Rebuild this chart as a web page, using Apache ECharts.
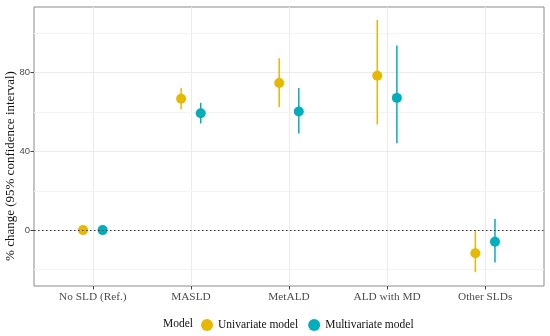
<!DOCTYPE html>
<html>
<head>
<meta charset="utf-8">
<script src="https://cdn.jsdelivr.net/npm/echarts@6/dist/echarts.min.js"></script>
<style>html,body{margin:0;padding:0;background:#fff;}#c{width:550px;height:336px;}</style>
</head>
<body>
<div id="c"></div>
<script>
var categories = ['No SLD (Ref.)', 'MASLD', 'MetALD', 'ALD with MD', 'Other SLDs'];
var uniEst  = [0, 66.8, 74.8, 78.5, -11.8];
var uniLow  = [0, 61.3, 62.6, 53.7, -21.4];
var uniHigh = [0, 72.2, 87.4, 106.8, 0];
var multiEst  = [0, 59.4, 60.3, 67.2, -5.9];
var multiLow  = [0, 54.2, 49.1, 44.1, -16.4];
var multiHigh = [0, 64.7, 72.2, 93.8, 5.6];
var yTicks = [0, 40, 80];
var yMinor = [-20, 20, 60, 100];

var UNI = '#E7B800', MULTI = '#00AFBB';
var dodge = 0.1;
var serif = '"Liberation Serif", "DejaVu Serif", serif';

function pts(est, off) { return est.map(function (v, i) { return [i + 1 + off, v]; }); }
function bars(lo, hi, off) { return lo.map(function (v, i) { return [i + 1 + off, v, hi[i]]; }); }
function renderBar(color) {
  return function (params, api) {
    var p1 = api.coord([api.value(0), api.value(1)]);
    var p2 = api.coord([api.value(0), api.value(2)]);
    return { type: 'line', shape: { x1: p1[0], y1: p1[1], x2: p2[0], y2: p2[1] },
      style: { stroke: color, lineWidth: 1.5 } };
  };
}

var gridLines = [];
categories.forEach(function (c, i) { gridLines.push({ xAxis: i + 1, lineStyle: { color: '#ebebeb', width: 1, type: 'solid' } }); });
yTicks.forEach(function (v) { gridLines.push({ yAxis: v, lineStyle: { color: '#ebebeb', width: 1, type: 'solid' } }); });
yMinor.forEach(function (v) { gridLines.push({ yAxis: v, lineStyle: { color: '#f3f3f3', width: 1, type: 'solid' } }); });

var chart = echarts.init(document.getElementById('c'), null, { renderer: 'canvas' });
chart.setOption({
  animation: false,
  grid: { left: 34, right: 6, top: 7, bottom: 50, containLabel: false, outerBoundsMode: 'none',
    show: true, borderColor: '#8a8a8a', borderWidth: 1, backgroundColor: 'transparent' },
  xAxis: {
    type: 'value', min: 0.4, max: 5.6, position: 'bottom',
    axisLine: { show: false, onZero: false },
    splitLine: { show: false },
    axisTick: { show: true, customValues: [1, 2, 3, 4, 5], length: 3.5, lineStyle: { color: '#444' } },
    axisLabel: { customValues: [1, 2, 3, 4, 5], color: '#4d4d4d', fontFamily: serif, fontSize: 11.3, margin: 6,
      formatter: function (v) { return categories[Math.round(v) - 1] || ''; } }
  },
  yAxis: {
    type: 'value', min: -28.4, max: 113.4, position: 'left',
    axisLine: { show: false, onZero: false },
    splitLine: { show: false },
    axisTick: { show: true, customValues: yTicks, length: 3.5, lineStyle: { color: '#444' } },
    axisLabel: { customValues: yTicks, color: '#4d4d4d', fontFamily: '"Liberation Sans", Arial, sans-serif', fontSize: 9.5, margin: 4 }
  },
  legend: {
    data: [{ name: 'Univariate model', icon: 'circle' }, { name: 'Multivariate model', icon: 'circle' }],
    left: 201, top: 319, itemWidth: 12, itemHeight: 12, itemGap: 10, padding: 0,
    textStyle: { fontFamily: serif, fontSize: 11.5, color: '#111' },
    selectedMode: false
  },
  graphic: [
    { type: 'text', left: 163, top: 318, style: { text: 'Model', font: '11.5px ' + serif, fill: '#111' } },
    { type: 'text', x: 10.5, y: 166, rotation: Math.PI / 2,
      style: { text: '% change (95% confidence interval)', font: '13px ' + serif, fill: '#111', align: 'center', verticalAlign: 'middle' } }
  ],
  series: [
    { type: 'scatter', name: 'grid', data: [], silent: true, z: 0,
      markLine: { silent: true, z: 0, symbol: 'none', label: { show: false }, animation: false, data: gridLines } },
    { type: 'custom', name: 'Univariate model', data: bars(uniLow, uniHigh, -dodge), renderItem: renderBar(UNI), itemStyle: { color: UNI }, z: 2 },
    { type: 'custom', name: 'Multivariate model', data: bars(multiLow, multiHigh, dodge), renderItem: renderBar(MULTI), itemStyle: { color: MULTI }, z: 2 },
    { type: 'scatter', name: 'Univariate model', data: pts(uniEst, -dodge), symbolSize: 10, itemStyle: { color: UNI, opacity: 1 }, z: 3 },
    { type: 'scatter', name: 'Multivariate model', data: pts(multiEst, dodge), symbolSize: 10, itemStyle: { color: MULTI, opacity: 1 }, z: 3,
      markLine: { silent: true, symbol: 'none', label: { show: false }, animation: false, z: 10,
        data: [{ yAxis: 0, lineStyle: { color: '#333', width: 1, type: [1.5, 2.5] } }] } }
  ]
});
</script>
</body>
</html>
